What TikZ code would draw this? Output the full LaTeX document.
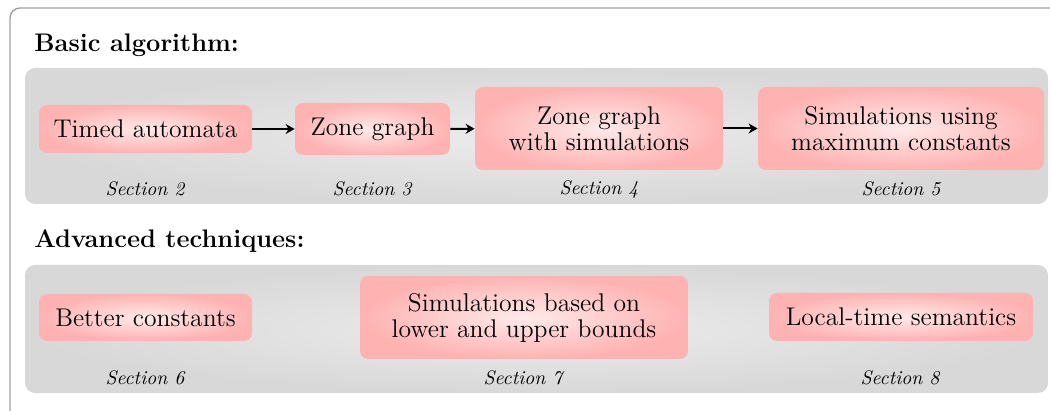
\documentclass[tikz,border=0pt]{standalone}
\usetikzlibrary{arrows.meta}
\definecolor{pinkin}{RGB}{255,234,234}
\definecolor{pinkout}{RGB}{255,178,178}
\definecolor{grayin}{RGB}{236,236,236}
\definecolor{grayout}{RGB}{216,216,216}
\definecolor{framecol}{RGB}{160,160,160}
\begin{document}
\begin{tikzpicture}[x=0.5pt,y=-0.5pt,
  box/.style={rounded corners=4pt, inner color=pinkin, outer color=pinkout,
    align=center, font=\fontsize{12.8}{13}\selectfont, inner sep=0pt},
  panel/.style={rounded corners=5pt, inner color=grayin, outer color=grayout},
  sec/.style={font=\fontsize{9.8}{11}\selectfont\itshape, inner sep=0pt},
  head/.style={font=\fontsize{12.7}{14}\selectfont\bfseries, anchor=base west, inner sep=0pt},
  arr/.style={-{Stealth[length=4.5pt,width=5pt]}, line width=1pt},
  frame/.style={draw=framecol, line width=0.7pt, rounded corners=5pt}]
\useasboundingbox (0,0) rectangle (1050,411);
\clip (0,0) rectangle (1050,411);
% outer frame
\draw[frame] (10,440) -- (10,8) -- (1080,8);
% panels
\shade[panel] (25,68) rectangle (1048,204);
\shade[panel] (25,265) rectangle (1048,393);
% headings
\node[head] (h1) at (34,52) {Basic algorithm:};
\node[head] (h2) at (34,248) {Advanced techniques:};
% basic algorithm
\node[box, minimum width=106.5pt, minimum height=24pt] (ta) at (145.5,129) {Timed automata};
\node[box, minimum width=77.5pt, minimum height=26pt] (zg) at (372.5,129) {Zone graph};
\node[box, minimum width=124pt, minimum height=41.5pt] (zgs) at (599,128.5) {Zone graph\\with simulations};
\node[box, minimum width=143pt, minimum height=41.5pt] (sim) at (901,128.5) {Simulations using\\maximum constants};
\draw[arr] (ta) -- (zg);
\draw[arr] (zg) -- (zgs);
\draw[arr] (zgs) -- (sim);
\node[sec] (s2) at (145,189) {Section 2};
\node[sec] (s3) at (372,189) {Section 3};
\node[sec] (s4) at (599,189) {Section 4};
\node[sec] (s5) at (901,189) {Section 5};
% advanced techniques
\node[box, minimum width=106.5pt, minimum height=23.5pt] (bc) at (145.5,317.5) {Better constants};
\node[box, minimum width=164pt, minimum height=41.5pt] (slu) at (524,317.5) {Simulations based on\\lower and upper bounds};
\node[box, minimum width=132pt, minimum height=24pt] (lt) at (901,317) {Local-time semantics};
\node[sec] (s6) at (145,378) {Section 6};
\node[sec] (s7) at (523,378) {Section 7};
\node[sec] (s8) at (900,378) {Section 8};
\end{tikzpicture}
\end{document}
